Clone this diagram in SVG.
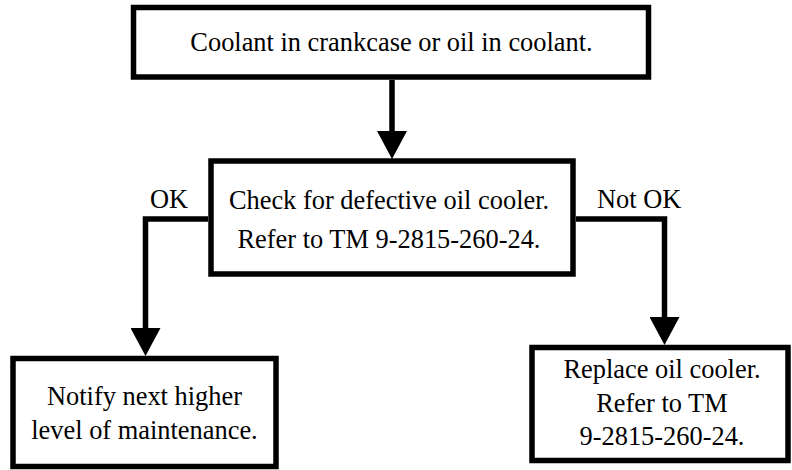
<svg xmlns="http://www.w3.org/2000/svg" width="792" height="470" viewBox="0 0 792 470">
  <style>
    .box { fill: #ffffff; stroke: #000000; stroke-width: 5.5; }
    .conn { fill: none; stroke: #000000; stroke-width: 5.5; }
    text { font-family: "Liberation Serif", "Times New Roman", serif; font-size: 26.4px; fill: #000000; }
    .c { text-anchor: middle; }
  </style>
  <defs>
    <marker id="arrow" viewBox="0 0 28 30" refX="0" refY="15" markerWidth="28" markerHeight="30" markerUnits="userSpaceOnUse" orient="auto">
      <path d="M0,0 L28,15 L0,30 Z" fill="#000000"/>
    </marker>
  </defs>
  <rect width="792" height="470" fill="#ffffff"/>
  <g id="connectors">
    <path class="conn" d="M392,80 V131" marker-end="url(#arrow)"/>
    <path class="conn" d="M208,219 H145.5 V328" marker-end="url(#arrow)"/>
    <path class="conn" d="M576,219 H664.5 V317" marker-end="url(#arrow)"/>
    <text x="150" y="208">OK</text>
    <text x="597" y="208">Not OK</text>
  </g>
  <g id="start">
    <rect class="box" x="133.5" y="7.5" width="515" height="69.5"/>
    <text class="c" x="391.5" y="51">Coolant in crankcase or oil in coolant.</text>
  </g>
  <g id="check">
    <rect class="box" x="211" y="161" width="362" height="113"/>
    <text class="c" x="389" y="209">Check for defective oil cooler.</text>
    <text class="c" x="389" y="248">Refer to TM 9-2815-260-24.</text>
  </g>
  <g id="notify">
    <rect class="box" x="13" y="358.5" width="263" height="108"/>
    <text class="c" x="144.5" y="405">Notify next higher</text>
    <text class="c" x="144.5" y="439">level of maintenance.</text>
  </g>
  <g id="replace">
    <rect class="box" x="532" y="347.5" width="256" height="113"/>
    <text class="c" x="662" y="378">Replace oil cooler.</text>
    <text class="c" x="662" y="412">Refer to TM</text>
    <text class="c" x="662" y="445">9-2815-260-24.</text>
  </g>
</svg>
